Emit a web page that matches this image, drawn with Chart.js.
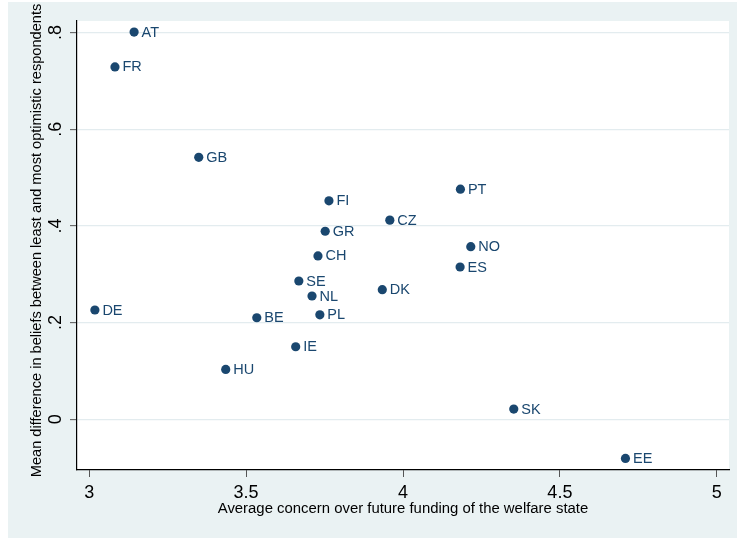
<!DOCTYPE html>
<html>
<head>
<meta charset="utf-8">
<script src="https://cdn.jsdelivr.net/npm/chart.js@4"></script>
<style>
  html, body { margin: 0; padding: 0; background: #ffffff; }
  #wrap { position: absolute; left: 8px; top: 2px; width: 729px; height: 536px; background: #eaf2f3; }
  canvas { display: block; }
</style>
</head>
<body>
<div id="wrap"><canvas id="c" width="729" height="536"></canvas></div>
<script>
// Country codes and their coordinates
const countries = ['AT','FR','GB','FI','PT','CZ','GR','NO','CH','ES','SE','DK','NL','DE','BE','PL','IE','HU','SK','EE'];
const concern   = [3.143,3.082,3.349,3.764,4.183,3.958,3.752,4.216,3.729,4.182,3.668,3.934,3.710,3.018,3.534,3.735,3.658,3.435,4.353,4.709];
const beliefGap = [0.801,0.729,0.542,0.452,0.476,0.412,0.389,0.357,0.338,0.315,0.286,0.268,0.255,0.226,0.210,0.216,0.150,0.103,0.021,-0.081];

// Axis ticks
const xTickValues = [3, 3.5, 4, 4.5, 5];
const xTickLabels = ['3', '3.5', '4', '4.5', '5'];
const yTickValues = [0, 0.2, 0.4, 0.6, 0.8];
const yTickLabels = ['0', '.2', '.4', '.6', '.8'];

const xTitle = 'Average concern over future funding of the welfare state';
const yTitle = 'Mean difference in beliefs between least and most optimistic respondents';

const FONT = '"Liberation Sans", Arial, Helvetica, sans-serif';
const NAVY = '#1a476f';

const points = concern.map((x, i) => ({ x: x, y: beliefGap[i] }));

// Background for the whole figure and the white plot region
const backgroundPlugin = {
  id: 'backgrounds',
  beforeDraw(chart) {
    const { ctx, chartArea: a } = chart;
    ctx.save();
    ctx.fillStyle = '#eaf2f3';
    ctx.fillRect(0, 0, chart.width, chart.height);
    ctx.fillStyle = '#ffffff';
    ctx.fillRect(a.left, a.top, a.right - a.left, a.bottom - a.top);
    ctx.restore();
  }
};

// Country code next to each marker
const pointLabelPlugin = {
  id: 'pointLabels',
  afterDatasetsDraw(chart) {
    const { ctx } = chart;
    const meta = chart.getDatasetMeta(0);
    ctx.save();
    ctx.font = '14.5px ' + FONT;
    ctx.fillStyle = NAVY;
    ctx.textAlign = 'left';
    ctx.textBaseline = 'middle';
    meta.data.forEach((el, i) => {
      ctx.fillText(countries[i], el.x + 7.5, el.y + 0.5);
    });
    ctx.restore();
  }
};

// Vertical axis title, allowed to run past the plot height
const yTitlePlugin = {
  id: 'yTitle',
  afterDraw(chart) {
    const { ctx, chartArea: a } = chart;
    ctx.save();
    ctx.font = '14.6px ' + FONT;
    ctx.fillStyle = '#000000';
    ctx.textAlign = 'center';
    ctx.textBaseline = 'middle';
    ctx.translate(29, (a.top + a.bottom) / 2 - 5);
    ctx.rotate(-Math.PI / 2);
    ctx.fillText(yTitle, 0, 0);
    ctx.restore();
  }
};

new Chart(document.getElementById('c'), {
  type: 'scatter',
  data: {
    datasets: [{
      data: points,
      backgroundColor: NAVY,
      borderColor: NAVY,
      borderWidth: 0,
      pointRadius: 4.6,
      pointHoverRadius: 4.6
    }]
  },
  options: {
    responsive: false,
    animation: false,
    devicePixelRatio: 1,
    layout: { padding: { top: 19, right: 8, left: 0, bottom: 0 } },
    plugins: {
      legend: { display: false },
      tooltip: { enabled: false }
    },
    scales: {
      x: {
        type: 'linear',
        min: 2.961,
        max: 5.039,
        afterBuildTicks(scale) { scale.ticks = xTickValues.map(v => ({ value: v })); },
        afterFit(scale) { scale.height = 68; },
        ticks: {
          autoSkip: false,
          maxRotation: 0,
          minRotation: 0,
          padding: 5,
          color: '#000000',
          font: { family: FONT, size: 18 },
          callback(v) { const i = xTickValues.indexOf(v); return i >= 0 ? xTickLabels[i] : ''; }
        },
        grid: { display: true, drawOnChartArea: false, drawTicks: true, tickLength: 7, tickColor: '#555555', tickWidth: 1 },
        border: { display: true, color: '#000000', width: 1.2 },
        title: {
          display: true,
          text: xTitle,
          color: '#000000',
          font: { family: FONT, size: 14.9 },
          padding: { top: 0, bottom: 20.5 }
        }
      },
      y: {
        type: 'linear',
        min: -0.105,
        max: 0.824,
        afterBuildTicks(scale) { scale.ticks = yTickValues.map(v => ({ value: v })); },
        afterFit(scale) { scale.width = 69; },
        ticks: {
          autoSkip: false,
          minRotation: 90,
          maxRotation: 90,
          crossAlign: 'center',
          padding: 6.5,
          color: '#000000',
          font: { family: FONT, size: 18 },
          callback(v) { const i = yTickValues.findIndex(t => Math.abs(t - v) < 1e-9); return i >= 0 ? yTickLabels[i] : ''; }
        },
        grid: { display: true, drawOnChartArea: true, drawTicks: true, tickLength: 7, color: '#e3ecef', lineWidth: 1.3, tickColor: '#555555', tickWidth: 1 },
        border: { display: true, color: '#000000', width: 1.2 },
        title: { display: false }
      }
    }
  },
  plugins: [backgroundPlugin, pointLabelPlugin, yTitlePlugin]
});
</script>
</body>
</html>
